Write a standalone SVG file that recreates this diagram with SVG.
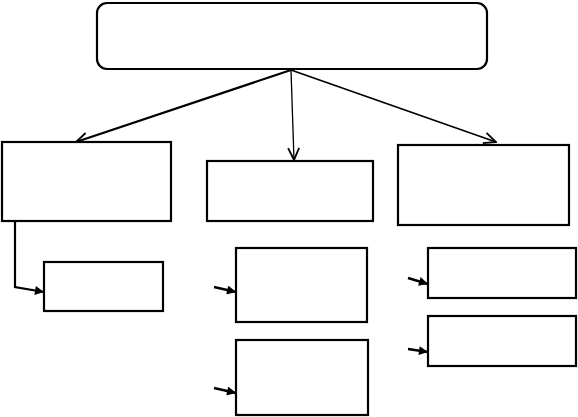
<svg xmlns="http://www.w3.org/2000/svg" width="578" height="417" viewBox="0 0 578 417">
<defs>
<marker id="open" viewBox="0 0 14 14" refX="13" refY="7" markerWidth="14" markerHeight="14" markerUnits="userSpaceOnUse" orient="auto">
<path d="M1,1.5 L13,7 L1,12.5" fill="none" stroke="#000" stroke-width="1.8"/>
</marker>
<marker id="fill" viewBox="0 0 10 10" refX="10" refY="5" markerWidth="11" markerHeight="9" markerUnits="userSpaceOnUse" orient="auto">
<path d="M0,0 L10,5 L0,10 Z" fill="#000"/>
</marker>
</defs>
<style>
.box{fill:#fff;stroke:#000;stroke-width:2.2}
.c{fill:none;stroke:#000}
</style>
<rect width="578" height="417" fill="#fff"/>
<g id="connectors">
<line class="c" x1="291" y1="70" x2="76" y2="142" stroke-width="2.2" marker-end="url(#open)"/>
<line class="c" x1="291" y1="70" x2="294" y2="160" stroke-width="1.3" marker-end="url(#open)"/>
<line class="c" x1="291" y1="70" x2="496" y2="142" stroke-width="1.8" marker-end="url(#open)"/>
<polyline class="c" points="15,221 15,287 44,292" stroke-width="2.2" marker-end="url(#fill)"/>
<line class="c" x1="214" y1="287" x2="236" y2="292" stroke-width="2.4" marker-end="url(#fill)"/>
<line class="c" x1="214" y1="388" x2="236" y2="393" stroke-width="2.4" marker-end="url(#fill)"/>
<line class="c" x1="408" y1="278" x2="428" y2="284" stroke-width="2.4" marker-end="url(#fill)"/>
<line class="c" x1="408" y1="349" x2="428" y2="352" stroke-width="2.4" marker-end="url(#fill)"/>
</g>
<g id="top"><rect class="box" x="97" y="3" width="390" height="66" rx="10"/></g>
<g id="left"><rect class="box" x="2" y="142" width="169" height="79"/></g>
<g id="middle"><rect class="box" x="207" y="161" width="166" height="60"/></g>
<g id="right"><rect class="box" x="398" y="145" width="171" height="80" stroke-width="2.8"/></g>
<g id="left-sub"><rect class="box" x="44" y="262" width="119" height="49"/></g>
<g id="mid-sub1"><rect class="box" x="236" y="248" width="131" height="74"/></g>
<g id="mid-sub2"><rect class="box" x="236" y="340" width="132" height="75"/></g>
<g id="right-sub1"><rect class="box" x="428" y="248" width="148" height="50"/></g>
<g id="right-sub2"><rect class="box" x="428" y="316" width="148" height="50"/></g>
</svg>
